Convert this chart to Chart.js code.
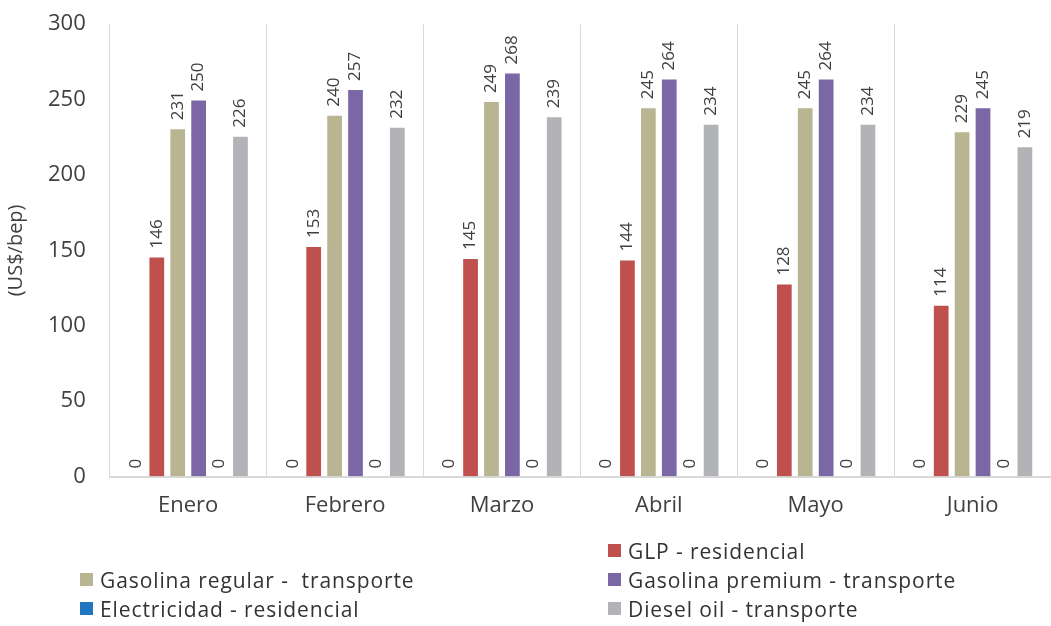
<!DOCTYPE html>
<html>
<head>
<meta charset="utf-8">
<script src="https://cdn.jsdelivr.net/npm/chart.js@4/dist/chart.umd.min.js"></script>
<style>
  body { margin: 0; background: #fff; }
  #wrap { position: relative; width: 1051px; height: 626px; overflow: hidden; }
  #myChart { position: absolute; left: 0; top: -5px; }
  #legend { position: absolute; left: 80px; top: 538px; width: 970px;
    display: grid; grid-template-columns: 528px 440px; row-gap: 4px;
    font-family: "Open Sans", sans-serif; font-size: 21px; letter-spacing: 0.9px; color: #333; }
  .item { display: flex; align-items: center; height: 25px; white-space: pre; }
  .box { width: 13px; height: 13px; margin-right: 7px; }
</style>
</head>
<body>
<div id="wrap">
  <canvas id="myChart" width="1051" height="626"></canvas>
  <div id="legend"></div>
</div>
<script>
const months = ["Enero", "Febrero", "Marzo", "Abril", "Mayo", "Junio"];
const blank = [0, 0, 0, 0, 0, 0];
const glp = [146, 153, 145, 144, 128, 114];
const gasRegular = [231, 240, 249, 245, 245, 229];
const gasPremium = [250, 257, 268, 264, 264, 245];
const electricidad = [0, 0, 0, 0, 0, 0];
const diesel = [226, 232, 239, 234, 234, 219];

const seriesNames = ["", "GLP - residencial", "Gasolina regular -  transporte",
  "Gasolina premium - transporte", "Electricidad - residencial", "Diesel oil - transporte"];
const seriesColors = ["#4F81BD", "#C0504D", "#B9B592", "#7B66A6", "#1F77C0", "#B2B3B7"];
const seriesData = [blank, glp, gasRegular, gasPremium, electricidad, diesel];

// rotated value labels above every bar
const barLabels = {
  id: "barLabels",
  afterDatasetsDraw(chart) {
    const ctx = chart.ctx;
    ctx.save();
    ctx.font = "17px 'Open Sans', sans-serif";
    ctx.fillStyle = "#404040";
    ctx.textAlign = "left";
    ctx.textBaseline = "middle";
    chart.data.datasets.forEach((ds, i) => {
      chart.getDatasetMeta(i).data.forEach((bar, j) => {
        ctx.save();
        ctx.translate(bar.x, bar.y - 8);
        ctx.rotate(-Math.PI / 2);
        ctx.fillText(String(ds.data[j]), 0, 0);
        ctx.restore();
      });
    });
    ctx.restore();
  },
};

const chart = new Chart("myChart", {
  type: "bar",
  data: {
    labels: months,
    datasets: seriesData.map((d, i) => ({
      label: seriesNames[i],
      data: d,
      backgroundColor: seriesColors[i],
      borderColor: "rgba(255,255,255,0.6)",
      borderWidth: 1,
      barPercentage: 0.8,
      categoryPercentage: 0.8,
    })),
  },
  options: {
    responsive: false,
    animation: false,
    layout: { padding: { top: 3, right: 0, bottom: 86, left: 0 } },
    plugins: { legend: { display: false }, tooltip: { enabled: false } },
    scales: {
      x: {
        grid: { color: "#D9D9D9", offset: true, drawTicks: false },
        border: { color: "#D9D9D9", width: 2 },
        ticks: { color: "#404040", padding: 16, font: { family: "Open Sans", size: 22 } },
      },
      y: {
        min: 0,
        max: 300,
        grid: { display: false },
        border: { display: false },
        ticks: { stepSize: 50, color: "#404040", padding: 16, font: { family: "Open Sans", size: 22 } },
        title: { display: true, text: "(US$/bep)", color: "#404040", padding: 4,
          font: { family: "Open Sans", size: 20 } },
      },
    },
  },
  plugins: [barLabels],
});

// html legend in two columns, first slot left empty like the original
const legend = document.getElementById("legend");
chart.data.datasets.forEach((ds) => {
  const item = document.createElement("div");
  item.className = "item";
  if (ds.label) {
    item.innerHTML = '<span class="box" style="background:' + ds.backgroundColor + '"></span>' + ds.label;
  }
  legend.appendChild(item);
});
</script>
</body>
</html>
